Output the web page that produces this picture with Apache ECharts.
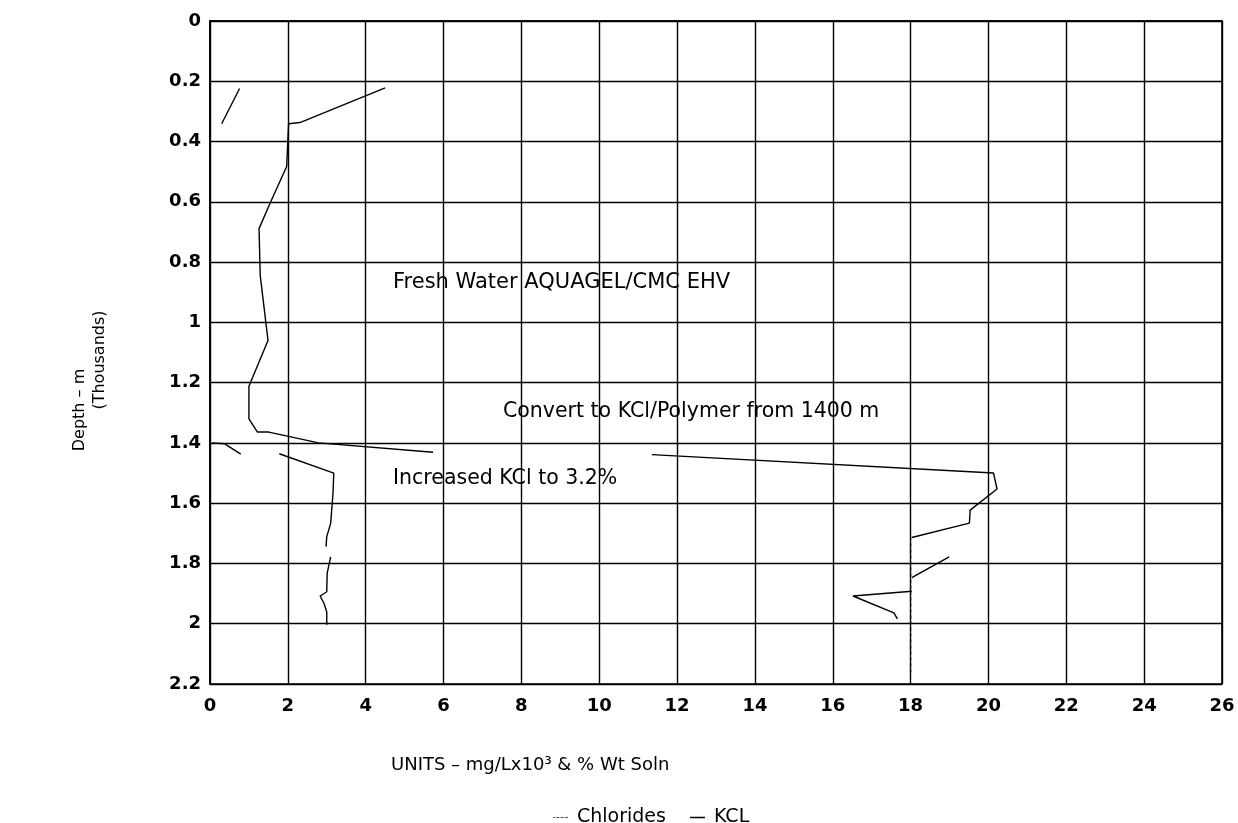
<!DOCTYPE html>
<html>
<head>
<meta charset="utf-8">
<script src="https://cdn.jsdelivr.net/npm/echarts@6/dist/echarts.min.js"></script>
<style>
html,body{margin:0;padding:0;background:#fff;}
#chart{width:1238px;height:823px;}
</style>
</head>
<body>
<div id="chart"></div>
<script>
// Tick labels
const xTickLabels = ['0','2','4','6','8','10','12','14','16','18','20','22','24','26'];
const yTickLabels = ['0','0.2','0.4','0.6','0.8','1','1.2','1.4','1.6','1.8','2','2.2'];

// KCL traces [units, depth (thousands m)] - separate pieces as drawn
const kclTop = [[0.76,0.224],[0.30,0.341]];
const kclUpper = [[4.5,0.222],[2.31,0.337],[2.02,0.341],[1.97,0.483],[1.56,0.600],[1.26,0.689],[1.29,0.844],[1.49,1.060],[1.00,1.212],[1.00,1.320],[1.22,1.364],[1.51,1.364],[2.79,1.400],[5.73,1.431]];
const kclConvert = [[11.35,1.439],[20.13,1.500],[20.22,1.553],[19.53,1.623],[19.51,1.666],[18.03,1.714]];
const kclSpike = [[18.03,1.847],[18.99,1.778]];
const kclLow = [[18.03,1.892],[16.52,1.908],[17.57,1.964],[17.66,1.984]];
const kclShort = [[0.05,1.400],[0.38,1.403],[0.79,1.437]];
const kclMid = [[1.78,1.436],[3.18,1.500],[3.16,1.567],[3.10,1.667],[3.00,1.711],[2.98,1.744]];
const kclBottom = [[3.10,1.778],[3.01,1.833],[3.00,1.894],[2.83,1.908],[2.93,1.933],[3.00,1.961],[3.00,2.003]];

// Chlorides trace
const chlorides = [[18.0,1.714],[18.0,2.17]];

const kclPieces = [kclTop, kclUpper, kclConvert, kclSpike, kclLow, kclShort, kclMid, kclBottom];

const FONT = 'DejaVu Sans';
const chart = echarts.init(document.getElementById('chart'), null, {renderer:'canvas'});

const series = [{
  name:'Chlorides', type:'line', data:chlorides, symbol:'none', silent:true,
  lineStyle:{color:'#111', width:1.4, type:[3,3]}, itemStyle:{color:'#333'}
}];
kclPieces.forEach(p => series.push({
  name:'KCL', type:'line', data:p, symbol:'none', silent:true,
  lineStyle:{color:'#000', width:1.4}, itemStyle:{color:'#000'}
}));

const option = {
  animation:false,
  backgroundColor:'#ffffff',
  grid:{left:210, top:21, width:1012, height:663, show:true, borderColor:'#000', borderWidth:1.6, backgroundColor:'transparent'},
  xAxis:{
    type:'value', min:0, max:26, interval:2,
    axisLine:{show:true, lineStyle:{color:'#000', width:1.6}},
    axisTick:{show:false},
    splitLine:{show:true, lineStyle:{color:'#000', width:1.4}},
    axisLabel:{fontFamily:FONT, fontWeight:'bold', fontSize:18, color:'#000', margin:13,
      formatter:v => xTickLabels[Math.round(v/2)]}
  },
  yAxis:{
    type:'value', inverse:true, min:0, max:2.2, interval:0.2,
    axisLine:{show:true, lineStyle:{color:'#000', width:1.6}},
    axisTick:{show:false},
    splitLine:{show:true, lineStyle:{color:'#000', width:1.4}},
    axisLabel:{fontFamily:FONT, fontWeight:'bold', fontSize:18, color:'#000', margin:9,
      formatter:v => yTickLabels[Math.round(v/0.2)]}
  },
  legend:{
    data:[
      {name:'Chlorides', icon:'path://M0,0h2v1h-2z M3,0h3v1h-3z M7,0h3v1h-3z M11,0h3v1h-3z', itemStyle:{color:'#555'}},
      {name:'KCL', icon:'rect', itemStyle:{color:'#000'}}
    ],
    left:548, top:803, itemGap:24, itemWidth:15, itemHeight:1.5,
    textStyle:{fontFamily:FONT, fontSize:19, color:'#000', padding:[0,0,0,4]}
  },
  graphic:[
    {type:'text', left:393, top:272, style:{text:'Fresh Water AQUAGEL/CMC EHV', font:'21px "DejaVu Sans"', fill:'#000'}},
    {type:'text', left:503, top:401, style:{text:'Convert to KCl/Polymer from 1400 m', font:'20.5px "DejaVu Sans"', fill:'#000'}},
    {type:'text', left:393, top:468, style:{text:'Increased KCl to 3.2%', font:'20.5px "DejaVu Sans"', fill:'#000'}},
    {type:'text', left:391, top:756, style:{text:'UNITS \u2013 mg/Lx10\u00b3 & % Wt Soln', font:'18px "DejaVu Sans"', fill:'#000'}},
    {type:'text', x:80, y:410, rotation:Math.PI/2, style:{text:'Depth \u2013 m', font:'16px "DejaVu Sans"', fill:'#000', align:'center', verticalAlign:'middle'}},
    {type:'text', x:100, y:360, rotation:Math.PI/2, style:{text:'(Thousands)', font:'16px "DejaVu Sans"', fill:'#000', align:'center', verticalAlign:'middle'}}
  ],
  series:series
};
chart.setOption(option);
</script>
</body>
</html>
